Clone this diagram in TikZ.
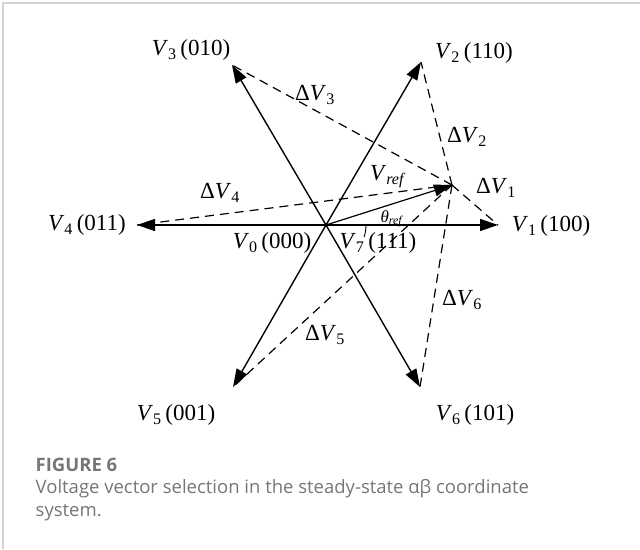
\documentclass[tikz,border=0pt]{standalone}
\usepackage{fontspec}
\setmainfont{Liberation Serif}
\newfontfamily\capfont{Open Sans}
\usetikzlibrary{arrows.meta}
\definecolor{capgray}{RGB}{118,118,118}
\definecolor{framegray}{RGB}{212,212,212}
\newcommand{\vlab}[2]{\textit{V}\textsubscript{#1}\,(#2)}
\newcommand{\dlab}[1]{Δ\textit{V}\textsubscript{#1}}

\begin{document}
\begin{tikzpicture}[x=1pt,y=-1pt,line width=1.4pt,
  vec/.style={-{Triangle[length=18pt,width=12pt]}},
  diff/.style={dash pattern=on 9pt off 6pt,line width=1.2pt},
  lab/.style={font=\fontsize{23}{25}\selectfont,inner sep=0pt}]
  \useasboundingbox (0,0) rectangle (640,549);
  \draw[framegray,line width=1.5pt] (3,549)--(3,3)--(640,3);
  % tips of the vectors
  \coordinate (O) at (326,225);
  \coordinate (P) at (452,185);
  \coordinate (t1) at (498,225);
  \coordinate (t2) at (421,62);
  \coordinate (t3) at (232,65);
  \coordinate (t4) at (137,225);
  \coordinate (t5) at (233,387);
  \coordinate (t6) at (420,387);
  \foreach \i in {1,...,6} \draw[diff] (P)--(t\i);
  \foreach \i in {1,...,6} \draw[vec] (O)--(t\i);
  \draw[vec,line width=1.2pt] (O)--(P);
  \draw[line width=0.9pt] ([shift={(40,0)}]O) arc[start angle=0,end angle=17.5,radius=40];
  \node[lab] (l1) at (551,226) {\vlab{1}{100}};
  \node[lab] (l2) at (474,53) {\vlab{2}{110}};
  \node[lab] (l3) at (191,50) {\vlab{3}{010}};
  \node[lab] (l4) at (87,225) {\vlab{4}{011}};
  \node[lab] (l5) at (176,415) {\vlab{5}{001}};
  \node[lab] (l6) at (475,415) {\vlab{6}{101}};
  \node[lab] (l0) at (272,243) {\vlab{0}{000}};
  \node[lab] (l7) at (378,243) {\vlab{7}{111}};
  \node[lab] (d1) at (496,188) {\dlab{1}};
  \node[lab] (d2) at (467,137) {\dlab{2}};
  \node[lab] (d3) at (315,95) {\dlab{3}};
  \node[lab] (d4) at (220,193) {\dlab{4}};
  \node[lab] (d5) at (325,335) {\dlab{5}};
  \node[lab] (d6) at (462,300) {\dlab{6}};
  \node[lab] (vr) at (388,177) {\textit{V}\textsubscript{\textit{ref}}};
  \node[inner sep=0pt,font=\fontsize{17}{19}\selectfont] (th) at (392,219) {\textit{θ}\textsubscript{\textit{ref}}};
  \node[anchor=west,inner sep=0pt,text=capgray,font=\capfont\bfseries\fontsize{18.5}{20}\selectfont] (fig) at (35,465) {FIGURE 6};
  \node[anchor=north west,inner sep=0pt,text=capgray,align=left,font=\capfont\fontsize{18.5}{23}\selectfont] (cap) at (35,479) {Voltage vector selection in the steady-state αβ coordinate\\system.};
\end{tikzpicture}
\end{document}
